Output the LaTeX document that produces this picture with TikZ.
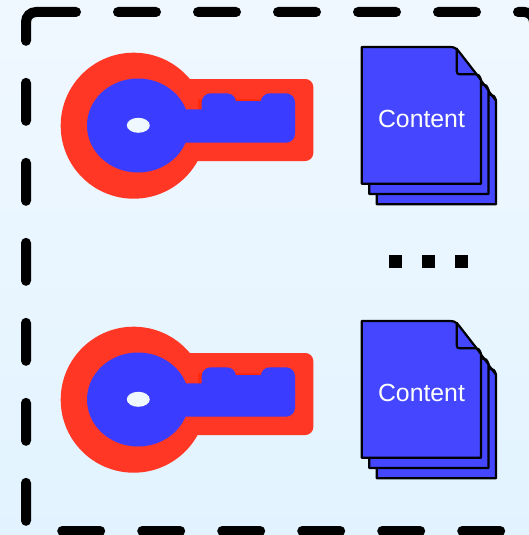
\documentclass[tikz,border=0pt]{standalone}
\usepackage{fontspec}
\setmainfont{Liberation Sans}
\definecolor{keyred}{HTML}{FF3724}
\definecolor{notchred}{HTML}{FF2A0C}
\definecolor{keyblue}{HTML}{3A3DFF}
\definecolor{docblue}{HTML}{4447FF}
\definecolor{paneltop}{HTML}{F0F8FF}
\definecolor{panelbot}{HTML}{E2F3FF}
\tikzset{
  panelline/.style = {line width=10pt,line cap=round,rounded corners=10pt,dash pattern=on 38pt off 42pt},
  keypart/.style   = {fill=keyblue,rounded corners=9pt},
  sheetline/.style = {draw=black,line width=2.2pt,line join=round},
  sheetfill/.style = {sheetline,fill=docblue},
  doctext/.style   = {text=white,font=\fontsize{24.8}{28}\selectfont,inner sep=0pt}
}
\newcommand{\keyicon}[1]{%
  \begin{scope}[yshift=-#1pt]
    \fill[keyred] (133.7,125.7) circle (73pt);
    \fill[keyred,rounded corners=8pt] (170,79) -- (313.3,79) -- (313.3,161) -- (170,161) -- cycle;
    \fill[notchred] (198,99) rectangle (262,112);
    \fill[keyblue] (138,125.5) ellipse (51pt and 47pt);
    \path[keypart] (162.7,109.3) rectangle (295,142.7);
    \path[keypart] (201.7,93.3) rectangle (236,120);
    \path[keypart] (260.7,93.3) rectangle (295,130);
    \fill[keyblue] (225,101.3) rectangle (270,120);
    \fill[paneltop] (138.3,125.3) ellipse (11.5pt and 7.5pt);
  \end{scope}
}
\newcommand{\docsheet}[2]{%
  \begin{scope}[shift={(#1,#2)}]
    \path[sheetfill] (0,0) -- (88,0) .. controls (92,0) and (94,1) .. (96,3) -- (119.3,33) -- (119.3,136.7) -- (0,136.7) -- cycle;
    \path[sheetline] (95,1) -- (95,24) .. controls (95,26.5) and (96,27.3) .. (98,27.3) -- (114,27.3) .. controls (116,27.3) and (118,28) .. (119.3,33);
  \end{scope}
}
\newcommand{\docstack}[2]{%
  \docsheet{376.7}{#1+20.6}
  \docsheet{369.2}{#1+10.3}
  \docsheet{361.7}{#1}
  \node[doctext] (#2) at (421.5,#1+71.5) {Content};
}

\begin{document}
\begin{tikzpicture}[x=1pt,y=-1pt]
  \useasboundingbox (0,0) rectangle (529,535);
  \clip (0,0) rectangle (529,535);
  \shade[top color=paneltop,bottom color=panelbot] (0,0) rectangle (529,535);

  \draw[panelline] (38,12) -- (534,12) -- (534,531) -- (26,531) -- (26,12) -- (38,12);

  \keyicon{0}
  \keyicon{274}
  \docstack{47}{contentA}
  \docstack{321}{contentB}

  \foreach \dotx in {389,422,455}
    \fill[black] (\dotx,255) rectangle (\dotx+13,268);
\end{tikzpicture}
\end{document}
